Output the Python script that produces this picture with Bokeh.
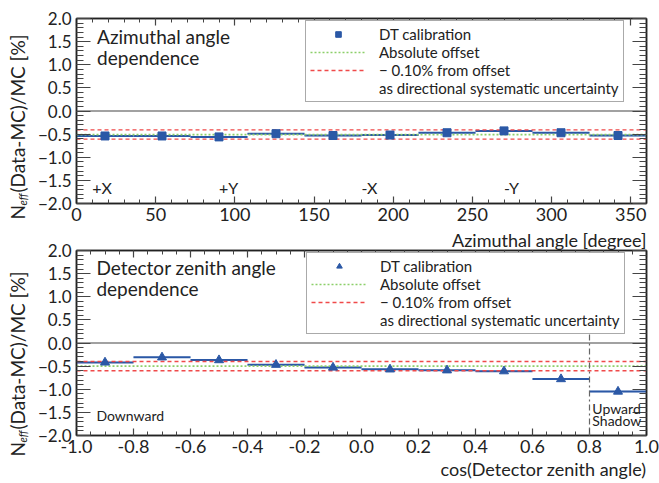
import math
from bokeh.plotting import figure
from bokeh.layouts import column, row
from bokeh.models import (Range1d, LinearAxis, FixedTicker, CustomJSTickFormatter,
                          Label, Legend, LegendItem, Span, Title)
from bokeh.core.properties import value
from bokeh.embed import file_html
from bokeh.resources import INLINE

# ---------------- data ----------------
az_edges = [0, 36, 72, 108, 144, 180, 216, 252, 288, 324, 360]
az_centers = [18, 54, 90, 126, 162, 198, 234, 270, 306, 342]
az_vals = [-0.54, -0.54, -0.56, -0.49, -0.53, -0.52, -0.47, -0.43, -0.47, -0.53]
az_err = [0.015, 0.015, 0.015, 0.015, 0.015, 0.015, 0.015, 0.015, 0.015, 0.015]
az_offset = -0.51

zen_edges = [-1.0, -0.8, -0.6, -0.4, -0.2, 0.0, 0.2, 0.4, 0.6, 0.8, 1.0]
zen_centers = [-0.9, -0.7, -0.5, -0.3, -0.1, 0.1, 0.3, 0.5, 0.7, 0.9]
zen_vals = [-0.42, -0.31, -0.37, -0.47, -0.53, -0.57, -0.59, -0.61, -0.78, -1.05]
zen_err = [0.015, 0.015, 0.015, 0.015, 0.015, 0.015, 0.015, 0.015, 0.015, 0.015]
zen_offset = -0.50

sys_unc = 0.10
upward_boundary = 0.8

dir_labels = ["+X", "+Y", "-X", "-Y"]
dir_pos = [10, 90, 180, 270]

y_ticks = [-2.0, -1.5, -1.0, -0.5, 0.0, 0.5, 1.0, 1.5, 2.0]
y_minor = [round(-2.0 + 0.1 * i, 1) for i in range(41)]
az_ticks = [0, 50, 100, 150, 200, 250, 300, 350]
az_minor = list(range(0, 361, 10))
zen_ticks = [-1.0, -0.8, -0.6, -0.4, -0.2, 0.0, 0.2, 0.4, 0.6, 0.8, 1.0]
zen_minor = [round(-1.0 + 0.05 * i, 2) for i in range(41)]

FONT = "Lato"
INK = "#222222"
BLUE = "#2b58a6"
BAND = "#a9c2e6"
GREEN = "#8ccf6a"
RED = "#f04a4a"

FRAME_W, FRAME_H = 570, 185
YL_W = 29          # strip holding the rotated y title
LEFT = 47          # left border of the plot itself
YFMT = "return tick.toFixed(1).replace('-', '\\u2212');"


def style_axis(ax, ticks, minor, fmt_code=None, labels=True, major_in=14, minor_in=7):
    ax.ticker = FixedTicker(ticks=ticks, minor_ticks=minor)
    ax.major_tick_in = major_in
    ax.major_tick_out = 0
    ax.minor_tick_in = minor_in
    ax.minor_tick_out = 0
    ax.major_tick_line_color = "#444444"
    ax.minor_tick_line_color = "#444444"
    ax.major_tick_line_width = 1.2
    ax.minor_tick_line_width = 1
    ax.axis_line_color = INK
    ax.axis_line_width = 1.5
    if labels:
        ax.formatter = CustomJSTickFormatter(code=fmt_code)
        ax.major_label_text_font = FONT
        ax.major_label_text_font_size = "17px"
        ax.major_label_text_color = INK
        ax.major_label_standoff = 5
    else:
        ax.major_label_text_font_size = "0px"
        ax.major_label_standoff = 0


def x_title(text):
    return Title(text=text, align="right", text_font=FONT, text_font_size="18px",
                 text_font_style="normal", text_color=INK, standoff=0)


def make_panel(x0, x1, edges, centers, vals, err, offset, marker, msize,
               xticks, xminor, xfmt, top_border):
    p = figure(frame_width=FRAME_W, frame_height=FRAME_H,
               x_range=Range1d(x0, x1), y_range=Range1d(-2, 2),
               x_axis_type=None, y_axis_type=None,
               output_backend="svg", toolbar_location=None,
               min_border_left=LEFT, min_border_right=13,
               min_border_top=top_border, min_border_bottom=0,
               background_fill_color="white", border_fill_color="white")
    p.grid.visible = False
    p.outline_line_color = INK
    p.outline_line_width = 1.5

    xb = LinearAxis()
    style_axis(xb, xticks, xminor, xfmt, major_in=7, minor_in=4)
    xb.major_label_text_font_size = "18px"
    xb.major_label_standoff = 4
    p.add_layout(xb, "below")
    xt = LinearAxis()
    style_axis(xt, xticks, xminor, labels=False, major_in=7, minor_in=4)
    p.add_layout(xt, "above")
    yl = LinearAxis()
    style_axis(yl, y_ticks, y_minor, YFMT)
    p.add_layout(yl, "left")
    yr = LinearAxis()
    style_axis(yr, y_ticks, y_minor, labels=False)
    p.add_layout(yr, "right")

    p.add_layout(Span(location=0, dimension="width", line_color="#444444", line_width=1.2))

    lefts = edges[:-1]
    rights = edges[1:]
    p.quad(left=lefts, right=rights,
           top=[v + e for v, e in zip(vals, err)],
           bottom=[v - e for v, e in zip(vals, err)],
           fill_color=BAND, fill_alpha=0.8, line_color=None)
    p.segment(x0=lefts, x1=rights, y0=vals, y1=vals, line_color=BLUE, line_width=2)

    r_off = p.segment(x0=[x0], x1=[x1], y0=[offset], y1=[offset],
                      line_color=GREEN, line_width=1.6, line_dash="2 2")
    r_sys = p.segment(x0=[x0, x0], x1=[x1, x1],
                      y0=[offset + sys_unc, offset - sys_unc],
                      y1=[offset + sys_unc, offset - sys_unc],
                      line_color=RED, line_width=1.3, line_dash="4 3")
    r_pts = p.scatter(centers, vals, marker=marker, size=msize,
                      fill_color=BLUE, line_color=BLUE)
    r_dummy = p.segment(x0=[x0], x1=[x0], y0=[0], y1=[0], line_alpha=0)
    return p, r_pts, r_off, r_sys, r_dummy


def add_legend(p, r_pts, r_off, r_sys, r_dummy, loc):
    leg = Legend(items=[
        LegendItem(label="DT calibration", renderers=[r_pts]),
        LegendItem(label="Absolute offset", renderers=[r_off]),
        LegendItem(label="\u2212 0.10% from offset", renderers=[r_sys]),
        LegendItem(label="as directional systematic uncertainty", renderers=[r_dummy]),
    ], location=loc)
    leg.label_text_font = FONT
    leg.label_text_font_size = "15px"
    leg.label_text_color = INK
    leg.glyph_width = 56
    leg.glyph_height = 14
    leg.label_height = 14
    leg.label_standoff = 13
    leg.spacing = 0
    leg.padding = 4
    leg.margin = 0
    leg.border_line_color = "#555555"
    leg.border_line_width = 1.5
    leg.background_fill_color = "white"
    leg.background_fill_alpha = 1.0
    p.add_layout(leg)


def ytitle_strip(height, frame_top):
    # narrow strip whose coordinates are pixels (y measured from its top)
    s = figure(frame_width=YL_W, frame_height=height, x_range=Range1d(0, YL_W),
               y_range=Range1d(height, 0), x_axis_type=None, y_axis_type=None,
               output_backend="svg", toolbar_location=None,
               min_border=0, outline_line_color=None,
               background_fill_color="white", border_fill_color="white")
    s.grid.visible = False
    base = dict(angle=math.pi / 2, text_font=value(FONT), text_color=INK,
                text_baseline="bottom", text_align="left")
    s.text(x=[28.8], y=[frame_top + 183], text=["N"], text_font_size="19px", **base)
    s.text(x=[28.8], y=[frame_top + 169], text=["eff"], text_font_size="11px",
           text_font_style="italic", **base)
    s.text(x=[28.8], y=[frame_top + 156], text=["(Data-MC)/MC [%]"],
           text_font_size="19px", **base)
    return s


# ---------------- top panel ----------------
TOP1 = 18
p1, a, b, c, d = make_panel(0, 360, az_edges, az_centers, az_vals, az_err, az_offset,
                            "square", 8, az_ticks, az_minor, "return tick.toFixed(0);",
                            TOP1)
add_legend(p1, a, b, c, d, (229, 101))
p1.text(x=dir_pos, y=[-1.85] * len(dir_pos), text=dir_labels, text_font=value(FONT),
        text_font_size="16px", text_color=INK, text_baseline="bottom")
p1.add_layout(Label(x=13, y=1.37, text="Azimuthal angle", text_font=FONT,
                    text_font_size="19px", text_color=INK))
p1.add_layout(Label(x=13, y=0.91, text="dependence", text_font=FONT,
                    text_font_size="19px", text_color=INK))

# ---------------- bottom panel ----------------
TOP2 = 22
p2, a, b, c, d = make_panel(-1, 1, zen_edges, zen_centers, zen_vals, zen_err, zen_offset,
                            "triangle", 9, zen_ticks, zen_minor, "return tick.toFixed(1);",
                            TOP2)
# the upper panel's x title sits in the gap between the panels
p2.add_layout(x_title("Azimuthal angle [degree]"), "above")
p2.add_layout(x_title("cos(Detector zenith angle)"), "below")
p2.add_layout(Span(location=upward_boundary, dimension="height", line_color="#666666",
                   line_width=1.2, line_dash="6 3 2 3"))
add_legend(p2, a, b, c, d, (230, 101))
p2.add_layout(Label(x=-0.93, y=1.38, text="Detector zenith angle", text_font=FONT,
                    text_font_size="19px", text_color=INK))
p2.add_layout(Label(x=-0.93, y=0.94, text="dependence", text_font=FONT,
                    text_font_size="19px", text_color=INK))
p2.add_layout(Label(x=-0.93, y=-1.76, text="Downward", text_font=FONT,
                    text_font_size="14px", text_color=INK))
p2.add_layout(Label(x=0.81, y=-1.59, text="Upward", text_font=FONT,
                    text_font_size="14px", text_color=INK))
p2.add_layout(Label(x=0.81, y=-1.87, text="Shadow", text_font=FONT,
                    text_font_size="14px", text_color=INK))

s1 = ytitle_strip(226, TOP1)
s2 = ytitle_strip(250, 23)

layout = column(row(s1, p1, spacing=0), row(s2, p2, spacing=0), spacing=0)
open("out.html", "w").write(file_html(layout, INLINE))
